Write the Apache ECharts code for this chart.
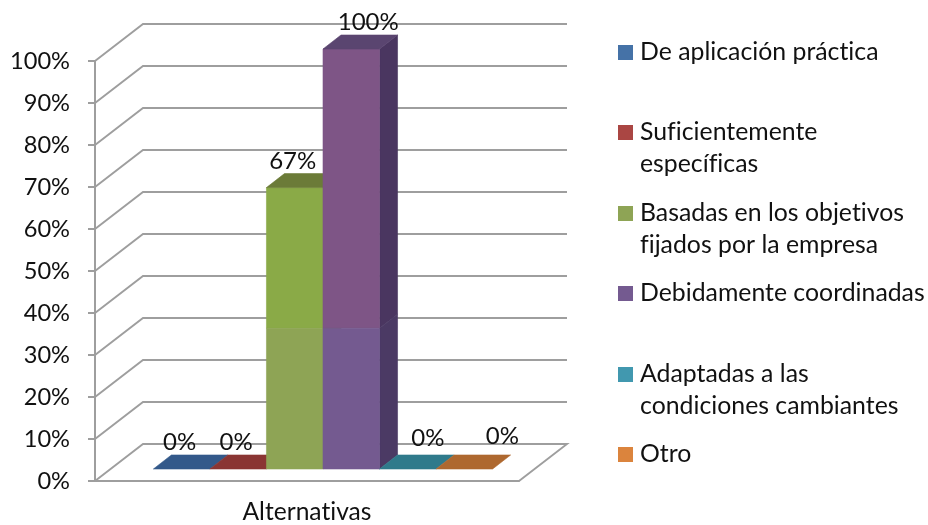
<!DOCTYPE html>
<html lang="es">
<head>
<meta charset="utf-8">
<title>Alternativas</title>
<script src="https://cdn.jsdelivr.net/npm/echarts@6/dist/echarts.min.js"></script>
<style>
  html, body { margin: 0; padding: 0; background: #fff; }
  #chart { width: 928px; height: 525px; }
</style>
</head>
<body>
<div id="chart"></div>
<script>
// Chart content
const categoryNames = ['Alternativas'];
const seriesNames = [
  'De aplicación práctica',
  'Suficientemente\nespecíficas',
  'Basadas en los objetivos\nfijados por la empresa',
  'Debidamente coordinadas',
  'Adaptadas a las\ncondiciones cambiantes',
  'Otro'
];
const seriesValues = [0, 0, 67, 100, 0, 0];
const axisTicks = [0, 10, 20, 30, 40, 50, 60, 70, 80, 90, 100];

// Face colours of each column
const frontColors = ['#4572A7', '#AA4643', '#8AAA47', '#7E5586', '#4198AF', '#DB843D'];
const frontLowerColors = ['#4572A7', '#AA4643', '#8EA455', '#745A90', '#4198AF', '#DB843D'];
const topColors = ['#33598A', '#8A3533', '#6B7B38', '#5A4570', '#2F7A8B', '#AE682F'];
const sideColors = ['#33598A', '#8A3533', '#66782F', '#4A3660', '#2F7A8B', '#AE682F'];
const sideLowerColors = ['#33598A', '#8A3533', '#66782F', '#4B3A64', '#2F7A8B', '#AE682F'];

// Oblique projection settings, in pixels
const wallDepth = [48, -37];
const barInset = [16, -12];
const barDepth = [18, -14];
const barSpan = 0.8;
const toneBreak = 33.5;

// Value labels sit slightly away from their column
const labelNudges = [[-2, -27], [-2, -27], [-2, -26], [17, -27], [20, -31], [38, -33]];
// Legend rows: top edge of each swatch
const legendTops = [45, 125, 206, 286, 367, 447];
const LEGEND_LINE = 32;
const SWATCH = 15;

const FONT = 'Lato';
const GRID_LINE = '#9E9E9E';

// A hair of letter spacing keeps the browser from joining "ti" into a ligature
const nativeGetContext = HTMLCanvasElement.prototype.getContext;
HTMLCanvasElement.prototype.getContext = function (kind, opts) {
  const ctx = nativeGetContext.call(this, kind, opts);
  if (kind === '2d' && ctx && 'letterSpacing' in ctx) ctx.letterSpacing = '0.01px';
  return ctx;
};

const chart = echarts.init(document.getElementById('chart'), null, { renderer: 'canvas' });

function poly(points, fill) {
  return {
    type: 'polygon',
    shape: { points },
    style: { fill, stroke: fill, lineWidth: 0.6 }
  };
}

function renderWallLine(params, api) {
  const value = api.value(1);
  const p = api.coord([0, value]);
  const band = api.size([1, 0])[0];
  const left = p[0] - band / 2;
  const backY = p[1] + wallDepth[1];
  const backLeft = left + wallDepth[0];
  const points = [[left, p[1]], [backLeft, backY], [backLeft + band, backY]];
  if (value === 0) points.push([left + band, p[1]]);
  return {
    type: 'polyline',
    shape: { points },
    style: { fill: 'none', stroke: GRID_LINE, lineWidth: 1.9 }
  };
}

function makeColumnRenderer(index) {
  return function (params, api) {
    const value = api.value(1);
    const base = api.coord([0, 0]);
    const tip = api.coord([0, value]);
    const band = api.size([1, 0])[0];
    const width = band * barSpan / seriesNames.length;
    const x0 = base[0] - band * barSpan / 2 + index * width + barInset[0];
    const x1 = x0 + width;
    const yBase = base[1] + barInset[1];
    const yTop = tip[1] + barInset[1];
    const dx = barDepth[0];
    const dy = barDepth[1];
    const children = [];
    if (value > 0) {
      const yBreak = api.coord([0, Math.min(value, toneBreak)])[1] + barInset[1];
      children.push(poly([[x1, yTop], [x1 + dx, yTop + dy], [x1 + dx, yBreak + dy], [x1, yBreak]], sideColors[index]));
      children.push(poly([[x1, yBreak], [x1 + dx, yBreak + dy], [x1 + dx, yBase + dy], [x1, yBase]], sideLowerColors[index]));
      children.push(poly([[x0, yTop], [x1, yTop], [x1, yBreak], [x0, yBreak]], frontColors[index]));
      children.push(poly([[x0, yBreak], [x1, yBreak], [x1, yBase], [x0, yBase]], frontLowerColors[index]));
    }
    children.push(poly([[x0, yTop], [x0 + dx, yTop + dy], [x1 + dx, yTop + dy], [x1, yTop]], topColors[index]));
    return { type: 'group', children };
  };
}

function makeLabelRenderer(index) {
  return function (params, api) {
    const value = api.value(1);
    const tip = api.coord([0, value]);
    const band = api.size([1, 0])[0];
    const width = band * barSpan / seriesNames.length;
    const x = tip[0] - band * barSpan / 2 + (index + 0.5) * width + barInset[0];
    return {
      type: 'text',
      style: {
        x: x + labelNudges[index][0],
        y: tip[1] + barInset[1] + labelNudges[index][1],
        text: Math.round(value) + '%',
        fill: '#111',
        font: '24px ' + FONT,
        align: 'center',
        verticalAlign: 'middle'
      }
    };
  };
}

const wallSeries = {
  type: 'custom',
  name: 'walls',
  silent: true,
  z: 1,
  clip: false,
  renderItem: renderWallLine,
  encode: { x: 0, y: 1 },
  data: axisTicks.map(t => [0, t])
};

const columnSeries = seriesNames.map((name, i) => ({
  type: 'custom',
  name,
  z: 2 + i,
  clip: false,
  itemStyle: { color: frontLowerColors[i] },
  renderItem: makeColumnRenderer(i),
  encode: { x: 0, y: 1 },
  data: [[0, seriesValues[i]]]
}));

const labelSeries = seriesNames.map((name, i) => ({
  type: 'custom',
  name: 'label ' + i,
  silent: true,
  z: 20,
  clip: false,
  renderItem: makeLabelRenderer(i),
  encode: { x: 0, y: 1 },
  data: [[0, seriesValues[i]]]
}));

const legends = seriesNames.map((name, i) => {
  // A blank leading line centres the swatch beside the first line of two-line names
  const twoLines = name.indexOf('\n') >= 0;
  const boxHeight = LEGEND_LINE * (twoLines ? 3 : 1);
  return {
    data: [name],
    formatter: label => (twoLines ? ' \n' + label : label),
    left: 618,
    top: legendTops[i] - (boxHeight - SWATCH) / 2,
    orient: 'vertical',
    padding: 0,
    itemWidth: SWATCH,
    itemHeight: SWATCH,
    icon: 'rect',
    selectedMode: false,
    textStyle: {
      fontFamily: FONT,
      fontSize: 24.8,
      color: '#111',
      lineHeight: LEGEND_LINE,
      padding: [0, 0, 0, 2]
    }
  };
});

chart.setOption({
  animation: false,
  backgroundColor: '#fff',
  grid: { left: 95, right: 409, top: 61, bottom: 44, containLabel: false },
  legend: legends,
  xAxis: {
    type: 'category',
    data: categoryNames,
    axisLine: { lineStyle: { color: GRID_LINE, width: 2 } },
    axisTick: { length: 7, lineStyle: { color: GRID_LINE, width: 2 } },
    axisLabel: { color: '#111', fontFamily: FONT, fontSize: 24.6, margin: 19 },
    splitLine: { show: false }
  },
  yAxis: {
    type: 'value',
    min: 0,
    max: 100,
    interval: 10,
    axisLine: { show: true, lineStyle: { color: GRID_LINE, width: 2 } },
    axisTick: { show: true, length: 7, lineStyle: { color: GRID_LINE, width: 2 } },
    axisLabel: { color: '#111', fontFamily: FONT, fontSize: 23.6, margin: 25, formatter: '{value}%' },
    splitLine: { show: false }
  },
  series: [wallSeries].concat(columnSeries, labelSeries)
});
</script>
</body>
</html>
